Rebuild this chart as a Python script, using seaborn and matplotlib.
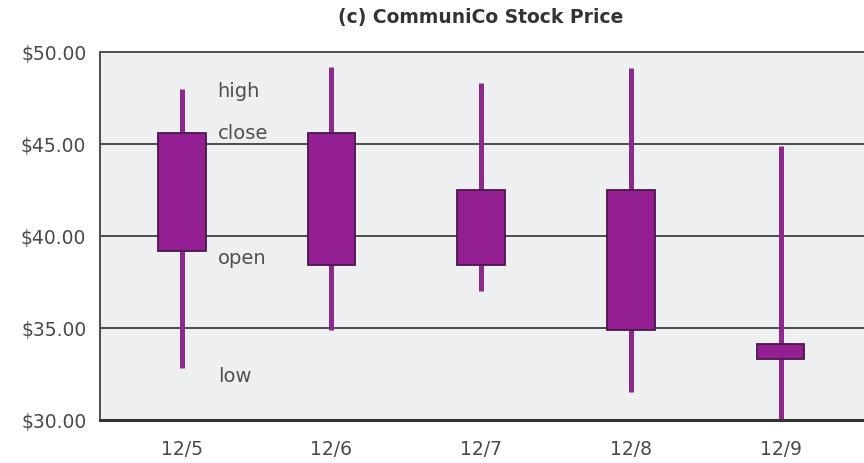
import numpy as np
import matplotlib
matplotlib.use("Agg")
import matplotlib.pyplot as plt
import seaborn as sns

# CommuniCo daily prices
DAYS   = ["12/5", "12/6", "12/7", "12/8", "12/9"]
OPEN   = [39.2, 38.4, 38.4, 42.5, 34.1]
HIGH   = [48.0, 49.2, 48.3, 49.1, 44.9]
LOW    = [32.8, 34.9, 37.0, 31.5, 30.0]
CLOSE  = [45.6, 45.6, 42.5, 34.9, 33.3]

# labels explaining the first candle
LEGEND_TEXT = ["high", "close", "open", "low"]
LEGEND_Y    = [47.9, 45.6, 38.85, 32.4]

sns.set_style("white")
plt.rcParams["font.family"] = ["DejaVu Sans"]

fig = plt.figure(figsize=(8.64, 4.64), dpi=100)
ax = fig.add_axes([0.116, 0.093, 0.90, 0.793])
ax.set_facecolor("#eeeff1")

x = np.arange(len(DAYS))
body_lo = np.minimum(OPEN, CLOSE)
body_h = np.abs(np.array(CLOSE) - np.array(OPEN))

# wicks, then bodies on top
ax.vlines(x, LOW, HIGH, color="#8b2a8c", linewidth=3.6, zorder=2)
ax.bar(x, body_h, bottom=body_lo, width=0.32, color="#931f93",
       edgecolor="#4a1848", linewidth=1.3, zorder=3)

for lab, yv in zip(LEGEND_TEXT, LEGEND_Y):
    ax.text(0.24, yv, lab, ha="left", va="center", fontsize=14, color="#505050")

ax.set_ylim(30, 50)
ax.set_xlim(-0.545, 4.65)
ax.set_yticks([30, 35, 40, 45, 50])
ax.set_yticklabels([f"${v:.2f}" for v in [30, 35, 40, 45, 50]])
ax.set_xticks(x)
ax.set_xticklabels(DAYS)
ax.tick_params(axis="both", length=0, labelsize=13.5, labelcolor="#4a4a4a")
ax.tick_params(axis="y", pad=10)
ax.tick_params(axis="x", pad=14)

for yv in [35, 40, 45]:
    ax.axhline(yv, color="#4d4d4d", linewidth=1.4, zorder=1)

for side in ["top", "left"]:
    ax.spines[side].set_color("#4d4d4d")
    ax.spines[side].set_linewidth(1.4)
ax.spines["bottom"].set_color("#333333")
ax.spines["bottom"].set_linewidth(2.2)
ax.spines["right"].set_visible(False)

fig.text(0.556, 0.963, "(c) CommuniCo Stock Price", ha="center", va="center",
         fontsize=13.5, fontweight="bold", color="#333333")

fig.savefig("out.png", dpi=100)
